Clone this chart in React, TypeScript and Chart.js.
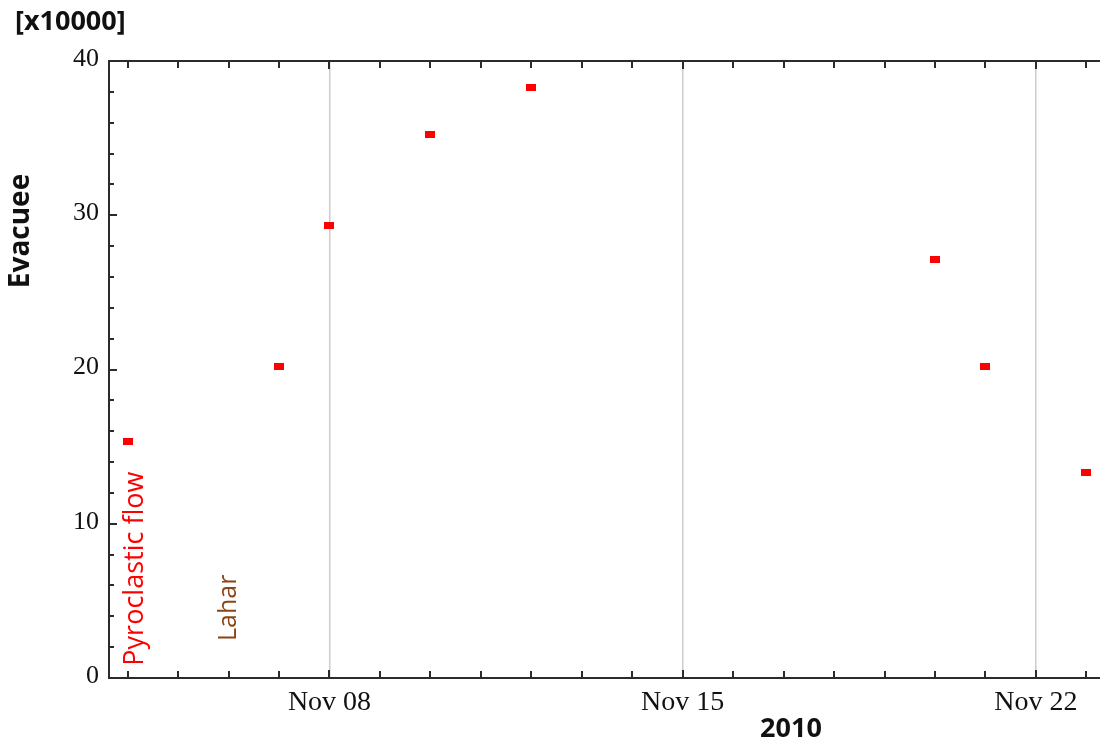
import React, { useEffect, useRef } from 'react';
import { Chart, registerables } from 'chart.js';

Chart.register(...registerables);

// Day of November 2010
const dates = [4, 7, 8, 10, 12, 20, 21, 23];
// Evacuees in units of 10000
const evacuees = [15.3, 20.2, 29.35, 35.25, 38.25, 27.15, 20.2, 13.3];

const majorDays = [8, 15, 22];
const majorLabels = ['Nov 08', 'Nov 15', 'Nov 22'];
const xMin = 3.63;
const xMax = 23.35;

const yMin = 0;
const yMax = 40;
const yMajorStep = 10;
const yMinorStep = 2;

const eventLabels = ['Pyroclastic flow', 'Lahar'];
const eventDays = [4.15, 6];
const eventYs = [0.8, 2.4];
const eventColors = ['#ff0000', '#8b4513'];
const eventFontSizes = [27, 25];

const yTitle = 'Evacuee';
const xTitle = '2010';
const unitLabel = '[x10000]';

function makeMarker(): HTMLCanvasElement {
  const c = document.createElement('canvas');
  c.width = 10;
  c.height = 7;
  const g = c.getContext('2d');
  if (g) {
    g.fillStyle = '#ff0000';
    g.fillRect(0, 0, 10, 7);
  }
  return c;
}

const framePlugin = {
  id: 'frameAndText',
  afterDraw(chart: any) {
    const { ctx, chartArea: a, scales } = chart;
    const xs = scales.x;
    const ys = scales.y;
    ctx.save();
    ctx.strokeStyle = '#2b2b2b';
    ctx.lineWidth = 2;
    ctx.beginPath();
    ctx.moveTo(a.left, a.top);
    ctx.lineTo(a.right, a.top);
    ctx.moveTo(a.left, a.bottom);
    ctx.lineTo(a.right, a.bottom);
    ctx.moveTo(a.left, a.top - 1);
    ctx.lineTo(a.left, a.bottom + 1);
    for (let d = Math.ceil(xMin); d <= xMax; d++) {
      const px = Math.round(xs.getPixelForValue(d));
      const len = majorDays.includes(d) ? 8 : 7;
      ctx.moveTo(px, a.bottom);
      ctx.lineTo(px, a.bottom - len);
      ctx.moveTo(px, a.top);
      ctx.lineTo(px, a.top + len);
    }
    for (let v = yMin; v <= yMax; v += yMinorStep) {
      const py = Math.round(ys.getPixelForValue(v));
      const len = v % yMajorStep === 0 ? 8 : 5;
      ctx.moveTo(a.left, py);
      ctx.lineTo(a.left + len, py);
    }
    ctx.stroke();

    // Unit label
    ctx.fillStyle = '#111';
    ctx.font = 'bold 27px "Open Sans", sans-serif';
    ctx.textAlign = 'left';
    ctx.textBaseline = 'alphabetic';
    ctx.fillText(unitLabel, 15, 30);

    // Y title
    ctx.save();
    ctx.translate(21, 231);
    ctx.rotate(-Math.PI / 2);
    ctx.textAlign = 'center';
    ctx.textBaseline = 'middle';
    ctx.font = 'bold 28px "Open Sans", sans-serif';
    ctx.fillText(yTitle, 0, 0);
    ctx.restore();

    // X title
    ctx.textAlign = 'center';
    ctx.textBaseline = 'alphabetic';
    ctx.font = 'bold 27px "Open Sans", sans-serif';
    ctx.fillText(xTitle, 791, 737);

    // Event annotations
    eventLabels.forEach((label, i) => {
      const px = xs.getPixelForValue(eventDays[i]);
      const py = ys.getPixelForValue(eventYs[i]);
      ctx.save();
      ctx.translate(px, py);
      ctx.rotate(-Math.PI / 2);
      ctx.textAlign = 'left';
      ctx.textBaseline = 'middle';
      ctx.fillStyle = eventColors[i];
      ctx.font = `${eventFontSizes[i]}px "Open Sans", sans-serif`;
      ctx.fillText(label, 0, 0);
      ctx.restore();
    });
    ctx.restore();
  },
};

export default function App() {
  const canvasRef = useRef<HTMLCanvasElement | null>(null);

  useEffect(() => {
    document.body.style.margin = '0';
    const canvas = canvasRef.current;
    if (!canvas) return;
    const marker = makeMarker();
    const chart = new Chart(canvas, {
      type: 'scatter',
      data: {
        datasets: [
          {
            label: 'Evacuee',
            data: dates.map((d, i) => ({ x: d, y: evacuees[i] })),
            pointStyle: marker as any,
            pointRadius: 5,
            showLine: false,
          },
        ],
      },
      options: {
        responsive: false,
        animation: false,
        layout: { padding: { left: 0, top: 61, right: 4, bottom: 0 } },
        plugins: {
          legend: { display: false },
          tooltip: { enabled: false },
          title: { display: false },
        },
        scales: {
          x: {
            type: 'linear',
            min: xMin,
            max: xMax,
            afterBuildTicks: (s: any) => {
              s.ticks = majorDays.map((v) => ({ value: v }));
            },
            afterFit: (s: any) => {
              s.height = 62;
            },
            ticks: {
              autoSkip: false,
              maxRotation: 0,
              minRotation: 0,
              padding: 8,
              color: '#111',
              font: { family: '"Liberation Serif", "Times New Roman", serif', size: 28 },
              callback: (v: any) => {
                const idx = majorDays.indexOf(Number(v));
                return idx >= 0 ? majorLabels[idx] : '';
              },
            },
            grid: { color: '#cccccc', lineWidth: 1.5, drawTicks: false },
            border: { display: false },
          },
          y: {
            type: 'linear',
            min: yMin,
            max: yMax,
            afterFit: (s: any) => {
              s.width = 109;
            },
            ticks: {
              stepSize: yMajorStep,
              padding: 10,
              labelOffset: -2,
              color: '#111',
              font: { family: '"Liberation Serif", "Times New Roman", serif', size: 26 },
            },
            grid: { display: false, drawTicks: false },
            border: { display: false },
          },
        },
      },
      plugins: [framePlugin],
    });
    return () => chart.destroy();
  }, []);

  return (
    <div style={{ position: 'absolute', left: 0, top: 0, width: 1100, height: 740, overflow: 'hidden', background: '#fff' }}>
      <canvas ref={canvasRef} width={1110} height={740} style={{ display: 'block' }} />
    </div>
  );
}
